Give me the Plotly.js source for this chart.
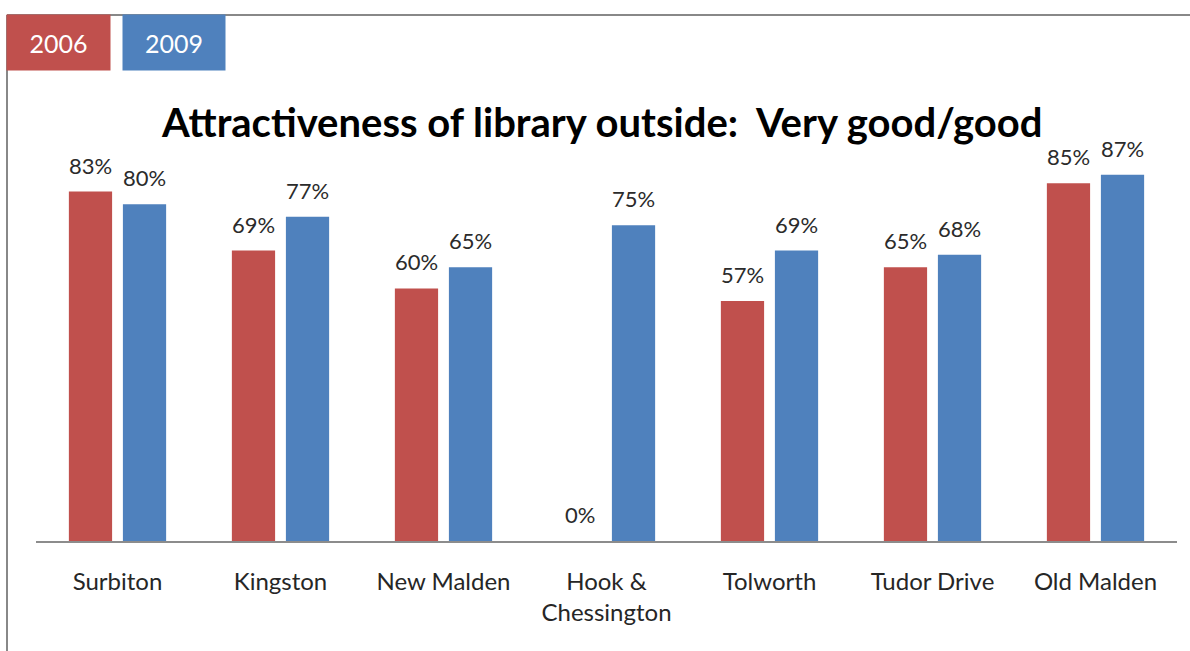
<!DOCTYPE html>
<html>
<head>
<meta charset="utf-8">
<script src="https://cdn.plot.ly/plotly-3.0.1.min.js"></script>
<style>html,body{margin:0;padding:0;background:#fff;}#chart{width:1190px;height:651px;}</style>
</head>
<body>
<div id="chart"></div>
<script>
const categories = ["Surbiton", "Kingston", "New Malden", "Hook &<br>Chessington", "Tolworth", "Tudor Drive", "Old Malden"];
const seriesNames = ["2006", "2009"];
const values2006 = [83, 69, 60, 0, 57, 65, 85];
const values2009 = [80, 77, 65, 75, 69, 68, 87];
const colors = ["#C0504D", "#4F81BD"];
const titleText = "Attractiveness of library outside:  Very good/good";

const W = 1190, H = 651;
const M = {l: 36, r: 13, t: 120, b: 110};
const PW = W - M.l - M.r, PH = H - M.t - M.b;
const px = x => (x - M.l) / PW;
const py = y => (H - M.b - y) / PH;

const font = "Lato, 'Open Sans', sans-serif";
const allVals = [values2006, values2009];

const traces = allVals.map((v, i) => ({
  type: "bar",
  name: seriesNames[i],
  x: categories,
  y: v,
  marker: {color: colors[i]},
  hoverinfo: "x+y",
  showlegend: false
}));

const annotations = [];
allVals.forEach((v, i) => {
  v.forEach((val, j) => {
    annotations.push({
      x: categories[j], y: val, xref: "x", yref: "y",
      text: val + "%", showarrow: false,
      xshift: i === 0 ? -27 : 27, yshift: 11,
      yanchor: "bottom", xanchor: "center",
      font: {family: font, size: 22, color: "#2b2b2b"}
    });
  });
});
// legend boxes
const legendX = [[7, 110], [123, 225]];
seriesNames.forEach((n, i) => {
  annotations.push({
    xref: "paper", yref: "paper",
    x: px((legendX[i][0] + legendX[i][1]) / 2), y: py(42.5),
    xanchor: "center", yanchor: "middle",
    text: n, showarrow: false,
    width: legendX[i][1] - legendX[i][0], height: 55,
    bgcolor: colors[i], borderpad: 0,
    font: {family: font, size: 25, color: "#fff"}
  });
});
// title
annotations.push({
  xref: "paper", yref: "paper", x: px(601), y: py(122),
  xanchor: "center", yanchor: "middle", showarrow: false,
  text: "<b>" + titleText + "</b>",
  font: {family: font, size: 40, color: "#000"}
});

const layout = {
  width: W, height: H,
  margin: M,
  paper_bgcolor: "#fff", plot_bgcolor: "#fff",
  barmode: "group", bargap: 0.337, bargroupgap: 0.2,
  xaxis: {
    showline: true, linecolor: "#8c8c8c", linewidth: 1.5,
    ticks: "", showgrid: false, zeroline: false,
    tickfont: {family: font, size: 24, color: "#262626"},
    ticklabelstandoff: 18
  },
  yaxis: {
    range: [0, 100], showgrid: false, zeroline: false,
    showticklabels: false, ticks: "", showline: false
  },
  shapes: [
    {type: "line", xref: "paper", yref: "paper", x0: px(7), x1: px(7), y0: py(15), y1: py(660), line: {color: "#888", width: 2}},
    {type: "line", xref: "paper", yref: "paper", x0: px(7), x1: px(1195), y0: py(15), y1: py(15), line: {color: "#888", width: 2}}
  ],
  annotations: annotations
};

Plotly.newPlot("chart", traces, layout, {displayModeBar: false});
</script>
</body>
</html>
